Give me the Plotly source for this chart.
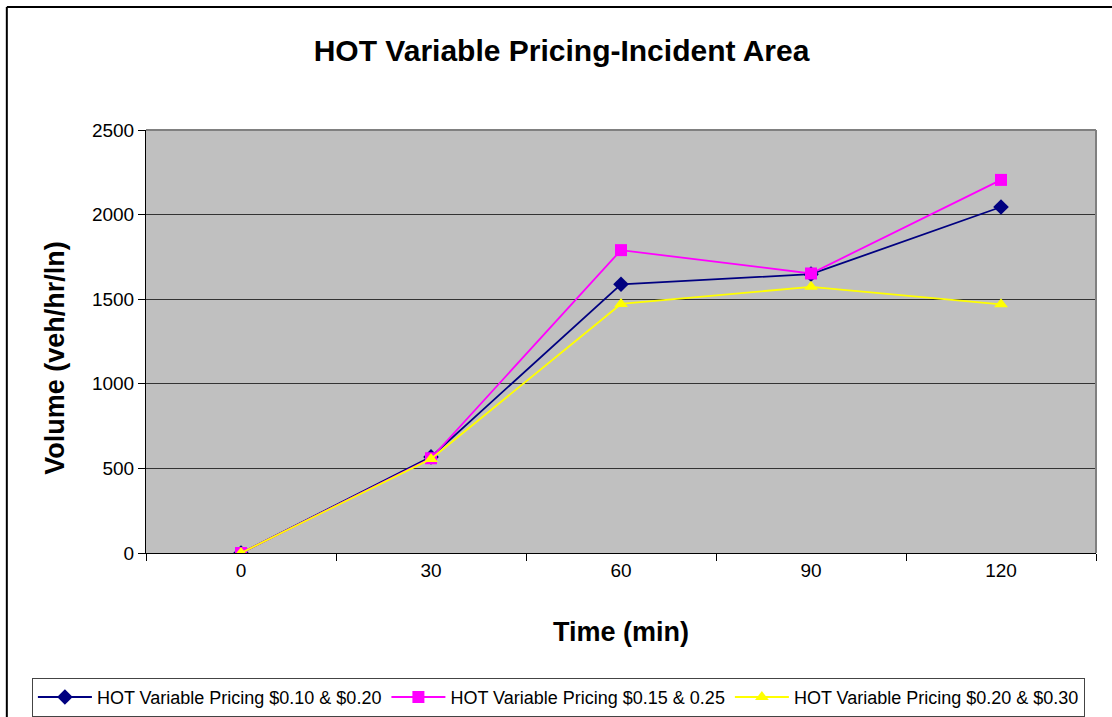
import plotly.graph_objects as go

categories = ["0", "30", "60", "90", "120"]
series_names = [
    "HOT Variable Pricing $0.10 & $0.20",
    "HOT Variable Pricing $0.15 & 0.25",
    "HOT Variable Pricing $0.20 & $0.30",
]
s1 = [0, 568, 1588, 1648, 2045]
s2 = [0, 560, 1790, 1652, 2205]
s3 = [0, 556, 1472, 1573, 1470]
colors = ["#000080", "#FF00FF", "#FFFF00"]
symbols = ["diamond", "square", "triangle-up"]

fig = go.Figure()
for name, vals, c, sym in zip(series_names, [s1, s2, s3], colors, symbols):
    fig.add_trace(go.Scatter(
        x=categories, y=vals, name=name, mode="lines+markers",
        line=dict(color=c, width=1.8),
        marker=dict(symbol=sym, size=12, color=c),
    ))

fig.update_layout(
    width=1112, height=717,
    margin=dict(l=146, r=16, t=130, b=164, autoexpand=False),
    paper_bgcolor="white", plot_bgcolor="#C0C0C0",
    font=dict(family="Liberation Sans, Arial, sans-serif", color="black"),
    title=dict(text="<b>HOT Variable Pricing-Incident Area</b>", x=0.505, xanchor="center",
               xref="container", y=0.930, yanchor="middle", font=dict(size=30)),
    showlegend=True,
    legend=dict(orientation="h", xref="paper", yref="paper",
                x=-0.1201, xanchor="left", y=-0.295, yanchor="top",
                bgcolor="white", bordercolor="#444444", borderwidth=1,
                font=dict(size=18), itemwidth=54, tracegroupgap=0),
    xaxis=dict(type="category", tickson="boundaries", ticks="outside", ticklen=7,
               tickcolor="black", showline=True, linecolor="black", showgrid=False,
               tickfont=dict(size=19), range=[-0.5, 4.5],
               title=dict(text="<b>Time (min)</b>", font=dict(size=27), standoff=42)),
    yaxis=dict(range=[0, 2500], dtick=500, ticks="outside", ticklen=7, tickcolor="black",
               showline=True, linecolor="black", gridcolor="#333333", gridwidth=1,
               tickfont=dict(size=19), zeroline=False),
)

fig.add_annotation(text="<b>Volume (veh/hr/ln)</b>", textangle=-90, xref="paper", yref="paper",
                   x=-0.096, y=0.461, xanchor="center", yanchor="middle", showarrow=False,
                   font=dict(size=27))

# plot-area gray border (top and right)
fig.add_shape(type="line", xref="paper", yref="paper", x0=0, x1=1, y0=1, y1=1,
              line=dict(color="#808080", width=2))
fig.add_shape(type="line", xref="paper", yref="paper", x0=1, x1=1, y0=0, y1=1,
              line=dict(color="#808080", width=2))
# outer chart border (left and top visible)
fig.add_shape(type="line", xref="paper", yref="paper", x0=-0.1465, x1=1.02, y0=1.2908, y1=1.2908,
              line=dict(color="black", width=2))
fig.add_shape(type="line", xref="paper", yref="paper", x0=-0.1465, x1=-0.1465, y0=-0.39, y1=1.2908,
              line=dict(color="black", width=2))

fig.write_html("out.html", config={"displayModeBar": False},
               post_script="document.body.style.margin='0';document.body.style.overflow='hidden';")
